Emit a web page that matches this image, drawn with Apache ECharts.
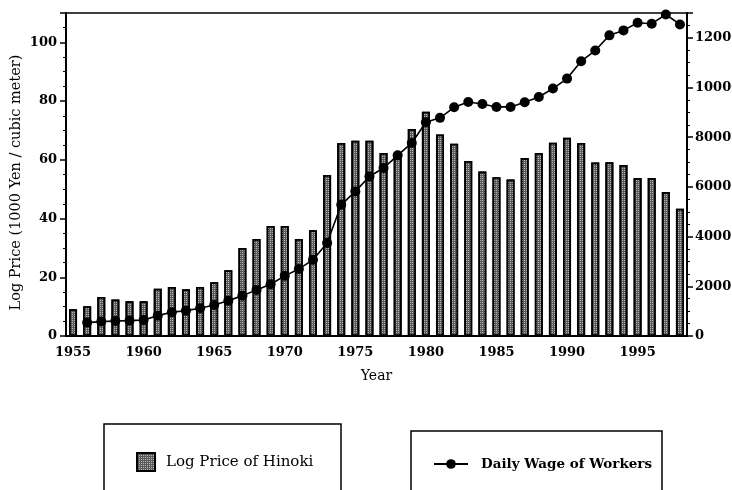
<!DOCTYPE html>
<html>
<head>
<meta charset="utf-8">
<script src="https://cdn.jsdelivr.net/npm/echarts@6/dist/echarts.min.js"></script>
<style>
html,body{margin:0;padding:0;background:#fff;}
#chart{width:732px;height:490px;}
</style>
</head>
<body>
<div id="chart"></div>
<script>
// ---- data ----
const years = [1955,1956,1957,1958,1959,1960,1961,1962,1963,1964,
  1965,1966,1967,1968,1969,1970,1971,1972,1973,1974,
  1975,1976,1977,1978,1979,1980,1981,1982,1983,1984,
  1985,1986,1987,1988,1989,1990,1991,1992,1993,1994,
  1995,1996,1997,1998];
const logPriceHinoki = [9.1,10.1,13.3,12.4,11.8,11.8,16.1,16.7,15.9,16.7,
  18.3,22.4,30.0,33.0,37.5,37.5,33.0,36.0,54.8,65.7,
  66.5,66.5,62.3,62.2,70.5,76.4,68.6,65.5,59.6,56.0,
  54.1,53.3,60.6,62.3,65.8,67.5,65.7,59.1,59.2,58.2,
  53.8,53.8,49.0,43.3];
const dailyWage = [null,540,580,605,620,645,820,955,1020,1115,
  1250,1420,1625,1855,2085,2420,2700,3065,3740,5280,
  5820,6420,6760,7270,7770,8600,8780,9205,9420,9340,
  9220,9220,9410,9620,9960,10360,11060,11490,12100,12300,
  12610,12570,12940,12540];
const seriesNames = ['Log Price of Hinoki', 'Daily Wage of Workers'];
const leftAxisName = 'Log Price (1000 Yen / cubic meter)';
const xAxisName = 'Year';

const serif = 'DejaVu Serif';
const labelStyle = {fontFamily: serif, fontWeight: 'bold', fontSize: 13, color: '#000'};

const chart = echarts.init(document.getElementById('chart'), null, {renderer: 'canvas'});
chart.setOption({
  backgroundColor: '#fff',
  animation: false,
  grid: {left: 66, right: 45, top: 13, bottom: 154, containLabel: false, outerBoundsMode: 'none',
    show: true, borderColor: '#000', borderWidth: 1.5},
  xAxis: {
    type: 'category',
    data: years,
    boundaryGap: true,
    axisLine: {lineStyle: {color: '#000', width: 2}},
    axisTick: {show: false},
    axisLabel: Object.assign({margin: 10, interval: (i, v) => Number(v) % 5 === 0}, labelStyle),
    name: xAxisName,
    nameLocation: 'middle',
    nameGap: 33,
    nameMoveOverlap: false,
    nameTextStyle: {fontFamily: serif, fontSize: 14, color: '#000'}
  },
  yAxis: [{
    type: 'value', min: 0, max: 110, interval: 20,
    axisLine: {show: true, lineStyle: {color: '#000', width: 2}},
    axisTick: {show: true, length: 6, lineStyle: {color: '#000', width: 1.5}},
    minorTick: {show: true, splitNumber: 4, length: 3, lineStyle: {color: '#000', width: 1}},
    splitLine: {show: false},
    axisLabel: Object.assign({margin: 9, showMaxLabel: false}, labelStyle),
    name: leftAxisName,
    nameLocation: 'middle',
    nameGap: 42,
    nameMoveOverlap: false,
    nameTextStyle: {fontFamily: serif, fontSize: 14.5, color: '#000', padding: [0, 16, 0, 0]}
  }, {
    type: 'value', min: 0, max: 13000, interval: 2000, position: 'right',
    axisLine: {show: true, lineStyle: {color: '#000', width: 2}},
    axisTick: {show: true, length: 6, lineStyle: {color: '#000', width: 1.5}},
    minorTick: {show: true, splitNumber: 4, length: 3, lineStyle: {color: '#000', width: 1}},
    splitLine: {show: false},
    axisLabel: Object.assign({margin: 8, showMaxLabel: false, align: 'left', formatter: v => String(v)}, labelStyle)
  }],
  legend: [{
    data: [seriesNames[0]], left: 131, top: 447, icon: 'rect', itemWidth: 18, itemHeight: 18,
    selectedMode: false,
    textStyle: {fontFamily: serif, fontSize: 15, color: '#000', padding: [0, 0, 0, 6]}
  }, {
    data: [seriesNames[1]], left: 428, top: 452, itemWidth: 34, itemHeight: 12,
    selectedMode: false,
    textStyle: {fontFamily: serif, fontWeight: 'bold', fontSize: 13.5, color: '#000', padding: [0, 0, 0, 8]}
  }],
  graphic: [
    {type: 'rect', shape: {x: 104, y: 424, width: 237, height: 100}, style: {fill: 'none', stroke: '#000', lineWidth: 1.5}, silent: true},
    {type: 'rect', shape: {x: 411, y: 431, width: 251, height: 100}, style: {fill: 'none', stroke: '#000', lineWidth: 1.5}, silent: true}
  ],
  series: [{
    name: seriesNames[0],
    type: 'bar',
    yAxisIndex: 0,
    data: logPriceHinoki,
    barWidth: 8,
    itemStyle: {
      color: '#5a5a5a', borderColor: '#000', borderWidth: 1.7,
      decal: {symbol: 'rect', symbolSize: 1, dashArrayX: [1, 1], dashArrayY: [1, 1], color: 'rgba(200,200,200,0.85)', rotation: 0}
    }
  }, {
    name: seriesNames[1],
    type: 'line',
    yAxisIndex: 1,
    data: dailyWage,
    symbol: 'circle',
    symbolSize: 10,
    showSymbol: true,
    showAllSymbol: true,
    lineStyle: {color: '#000', width: 1.6},
    itemStyle: {color: '#000'}
  }]
});
</script>
</body>
</html>
